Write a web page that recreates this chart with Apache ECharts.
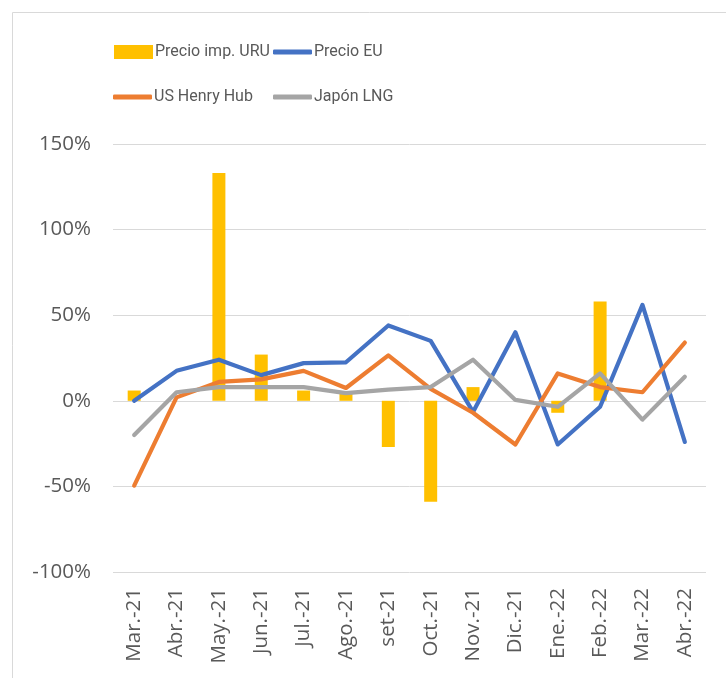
<!DOCTYPE html>
<html style="height: 100%">

<head>
  <meta charset="utf-8">
  <script type="text/javascript" src="https://cdn.jsdelivr.net/npm/echarts/dist/echarts.min.js"></script>
</head>

<body style="height: 100%; margin: 0; background: #fff">
  <div id="container" style="width: 726px; height: 678px"></div>
  <script type="text/javascript">
    var months = ['Mar.-21', 'Abr.-21', 'May.-21', 'Jun.-21', 'Jul.-21', 'Ago.-21', 'set-21',
      'Oct.-21', 'Nov.-21', 'Dic.-21', 'Ene.-22', 'Feb.-22', 'Mar.-22', 'Abr.-22'];
    var precioUru = [6, 0, 133, 27, 6, 5, -27, -59, 8, 0, -7, 58, 0, 0];
    var precioEu = [0, 17.5, 24, 15, 22, 22.5, 44, 35, -6.5, 40, -25.5, -3.5, 56, -24];
    var henryHub = [-49.5, 2, 11, 12.5, 17.5, 7.5, 26.5, 7, -7, -25.5, 16, 8, 5, 34];
    var japonLng = [-20, 5, 8, 8, 8, 4.5, 6.5, 8, 24, 0.5, -3.5, 16, -11, 14];
    var yTicks = { min: -100, max: 150, interval: 50 };

    var textColor = '#595959';
    var legendFont = "Roboto, sans-serif";
    var axisFont = "'Open Sans', sans-serif";

    var dom = document.getElementById("container");
    var myChart = echarts.init(dom);

    // one legend per item so the two columns line up like the original
    function legendAt(name, left, top, isLine) {
      return {
        data: [name],
        left: left,
        top: top,
        padding: 0,
        icon: isLine ? 'roundRect' : 'rect',
        itemWidth: 39,
        itemHeight: isLine ? 5 : 14,
        itemGap: 0,
        textStyle: { color: textColor, fontSize: 16, fontFamily: legendFont, padding: [0, 0, 0, -3] }
      };
    }

    function lineSeries(name, data, color) {
      return {
        name: name,
        type: 'line',
        symbol: 'none',
        data: data,
        itemStyle: { color: color },
        lineStyle: { color: color, width: 4.2, cap: 'round', join: 'round' },
        z: 3
      };
    }

    var option = {
      animation: false,
      textStyle: { fontFamily: axisFont },
      graphic: [{
        type: 'rect',
        shape: { x: 12.5, y: 12.5, width: 800, height: 800 },
        style: { fill: 'none', stroke: '#d9d9d9', lineWidth: 1 },
        silent: true
      }],
      legend: [
        legendAt('Precio imp. URU', 114, 44, false),
        legendAt('Precio EU', 273, 44, true),
        legendAt('US Henry Hub', 113, 89, true),
        legendAt('Japón LNG', 273, 89, true)
      ],
      grid: { left: 113, right: 20, top: 144, bottom: 106 },
      xAxis: {
        type: 'category',
        data: months,
        position: 'bottom',
        axisLine: { show: false },
        axisTick: { show: false },
        axisLabel: { rotate: 90, margin: 16, color: textColor, fontSize: 20.5, fontFamily: axisFont }
      },
      yAxis: {
        type: 'value',
        min: yTicks.min,
        max: yTicks.max,
        interval: yTicks.interval,
        axisLine: { show: false },
        axisTick: { show: false },
        splitLine: { lineStyle: { color: '#d9d9d9', width: 1 } },
        axisLabel: {
          margin: 22,
          color: textColor,
          fontSize: 20.5,
          fontFamily: axisFont,
          formatter: function (v) { return v + '%'; }
        }
      },
      series: [
        {
          name: 'Precio imp. URU',
          type: 'bar',
          barWidth: 13,
          data: precioUru,
          itemStyle: { color: '#FFC000' },
          z: 2
        },
        lineSeries('Precio EU', precioEu, '#4472C4'),
        lineSeries('US Henry Hub', henryHub, '#ED7D31'),
        lineSeries('Japón LNG', japonLng, '#A5A5A5')
      ]
    };
    myChart.setOption(option);
  </script>
</body>

</html>
